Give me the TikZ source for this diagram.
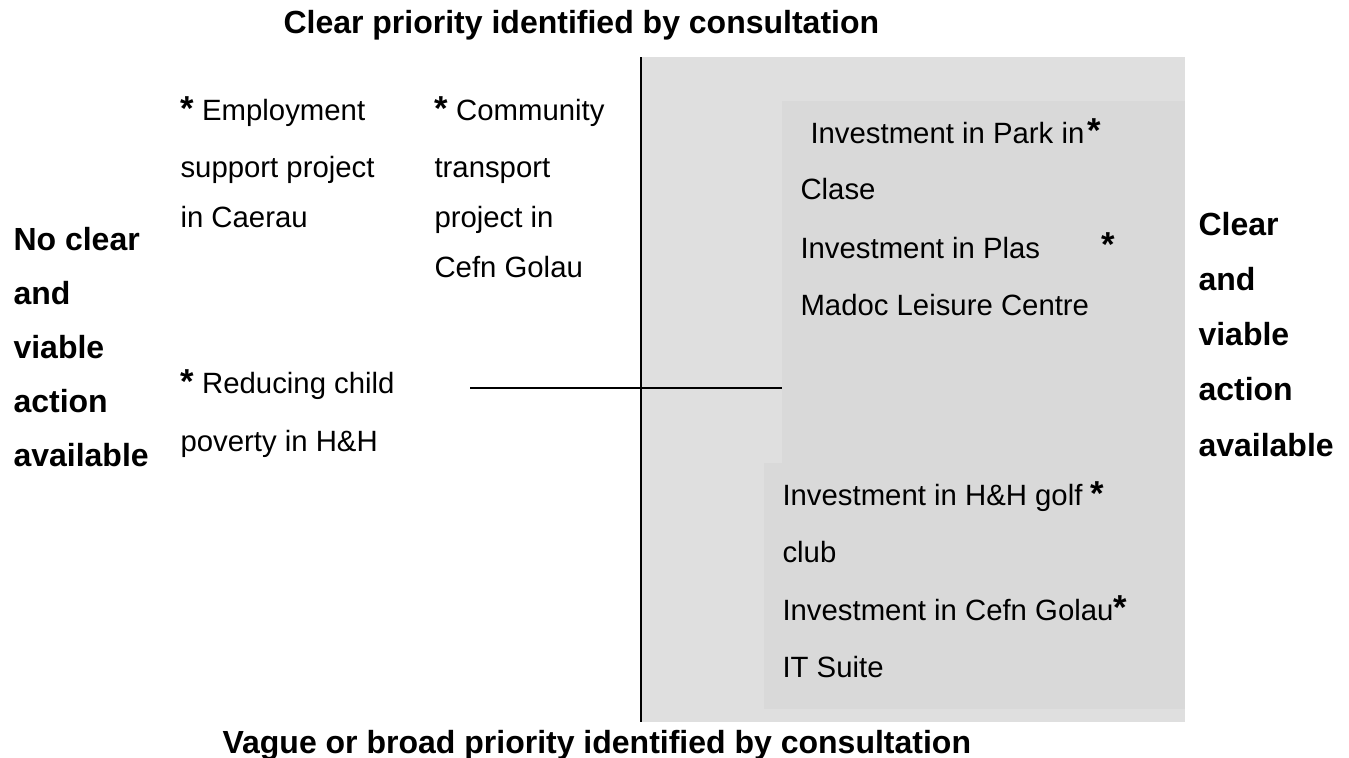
\documentclass[tikz,border=0pt]{standalone}
\usepackage{fontspec}
\setmainfont{Liberation Sans}
\definecolor{outergrey}{HTML}{DFDFDF}
\definecolor{innergrey}{HTML}{D9D9D9}
\newcommand\bstar{{\fontsize{13}{14}\selectfont\bfseries *}}
\begin{document}
\begin{tikzpicture}[x=0.375pt,y=-0.375pt,
  item/.style={anchor=base west,inner sep=0pt,font=\fontsize{11}{13}\selectfont},
  head/.style={anchor=base west,inner sep=0pt,font=\fontsize{12}{14}\selectfont\bfseries},
  starnode/.style={anchor=north west,inner sep=0pt,font=\fontsize{13}{14}\selectfont\bfseries},
  axisline/.style={line width=0.9pt}]
\useasboundingbox (0,0) rectangle (1349,758);

% shaded quadrant and the two inner panels
\fill[outergrey] (641,57) rectangle (1185,722);
\fill[innergrey] (782,101) rectangle (1185,463);
\fill[innergrey] (764,463) rectangle (1185,709);

% axes
\coordinate (vtop) at (641,57);
\coordinate (vbot) at (641,722);
\coordinate (hleft) at (470,388);
\coordinate (hright) at (782,388);
\draw[axisline] (vtop) -- (vbot);
\draw[axisline] (hleft) -- (hright);

% axis headings
\node[head] (ytop) at (283,33) {Clear priority identified by consultation};
\node[head] (ybot) at (222,753) {Vague or broad priority identified by consultation};

\node[head] (xl1) at (13,250) {No clear};
\node[head] (xl2) at (13,304) {and};
\node[head] (xl3) at (13,358) {viable};
\node[head] (xl4) at (13,412) {action};
\node[head] (xl5) at (13,466) {available};

\node[head] (xr1) at (1198,235) {Clear};
\node[head] (xr2) at (1198,290) {and};
\node[head] (xr3) at (1198,345) {viable};
\node[head] (xr4) at (1198,400) {action};
\node[head] (xr5) at (1198,456) {available};

% left-hand projects
\node[item] (emp1) at (180,120) {\bstar\ Employment};
\node[item] (emp2) at (180,177) {support project};
\node[item] (emp3) at (180,227) {in Caerau};

\node[item] (com1) at (434,120) {\bstar\ Community};
\node[item] (com2) at (434,177) {transport};
\node[item] (com3) at (434,227) {project in};
\node[item] (com4) at (434,277) {Cefn Golau};

\node[item] (chi1) at (180,393) {\bstar\ Reducing child};
\node[item] (chi2) at (180,451) {poverty in H\&H};

% upper panel
\node[item] (park1) at (810,143) {Investment in Park in};
\node[item] (park2) at (800,199) {Clase};
\node[item] (plas1) at (800,258) {Investment in Plas};
\node[item] (plas2) at (800,315) {Madoc Leisure Centre};
\node[starnode] (parkstar) at (1087,118) {*};
\node[starnode] (plasstar) at (1101,232) {*};

% lower panel
\node[item] (golf1) at (782,505) {Investment in H\&H golf};
\node[item] (golf2) at (782,562) {club};
\node[item] (cefn1) at (782,620) {Investment in Cefn Golau};
\node[item] (cefn2) at (782,677) {IT Suite};
\node[starnode] (golfstar) at (1090,481) {*};
\node[starnode] (cefnstar) at (1113,595) {*};
\end{tikzpicture}
\end{document}
